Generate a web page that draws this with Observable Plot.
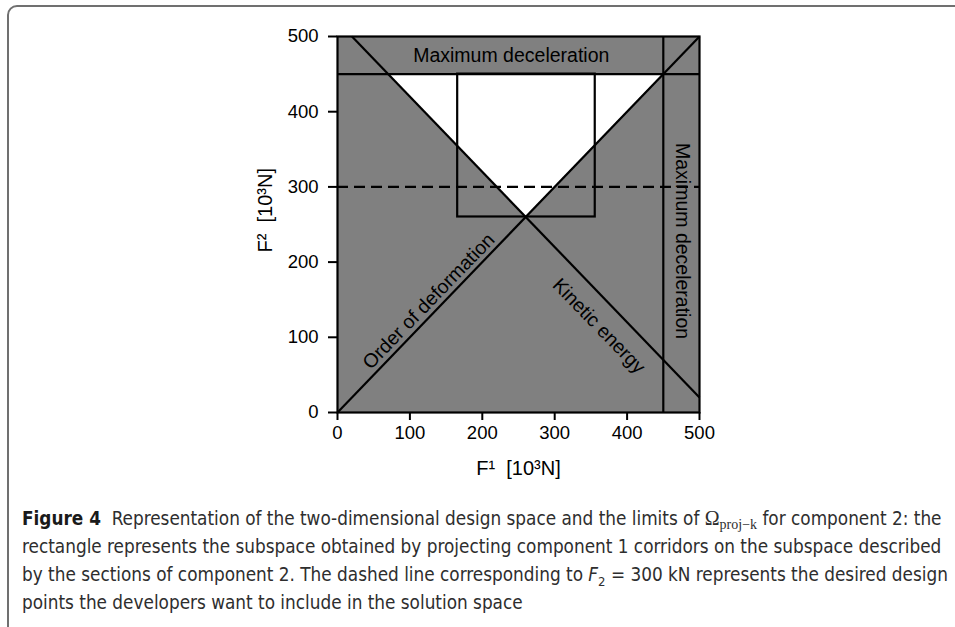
<!DOCTYPE html>
<html>
<head>
<meta charset="utf-8">
<script src="https://cdn.jsdelivr.net/npm/d3@7"></script>
<script src="https://cdn.jsdelivr.net/npm/@observablehq/plot@0.6"></script>
<style>
  html, body { margin: 0; padding: 0; background: #fff; width: 955px; height: 627px; overflow: hidden; }
  #frame { position: absolute; left: 7px; top: 5px; width: 980px; height: 640px; border: 2px solid #707070; border-radius: 10px; box-sizing: border-box; }
  #chart { position: absolute; left: 0; top: 0; }
  #caption { position: absolute; left: 22px; top: 504px; font-family: "Liberation Sans Narrow", "DejaVu Sans Condensed", "Open Sans", sans-serif; font-size: 18.8px; line-height: 28px; color: #2e2e2e; white-space: nowrap; }
  #caption b { color: #1a1a1a; }
  .om { font-family: "Liberation Serif", "DejaVu Serif", serif; font-size: 20px; }
  .om sub { font-size: 14px; vertical-align: -4px; line-height: 0; }
</style>
</head>
<body>
<div id="frame"></div>
<div id="chart"></div>
<div id="caption">
  <div><b>Figure 4</b>&nbsp; Representation of the two-dimensional design space and the limits of <span class="om">Ω<sub>proj−k</sub></span> for component 2: the</div>
  <div>rectangle represents the subspace obtained by projecting component 1 corridors on the subspace described</div>
  <div>by the sections of component 2. The dashed line corresponding to <i>F</i><sub style="font-size:13px;line-height:0">2</sub> = 300 kN represents the desired design</div>
  <div>points the developers want to include in the solution space</div>
</div>
<script>
// axis ticks
const xTicks = [0, 100, 200, 300, 400, 500];
const yTicks = [0, 100, 200, 300, 400, 500];

// feasible (white) region: bounded by order of deformation, kinetic energy and max deceleration
const feasibleX  = [70, 260, 450];
const feasibleY1 = [450, 260, 450];
const feasibleY2 = [450, 450, 450];

// constraint lines (start/end values)
const lineNames = ["Order of deformation", "Kinetic energy", "Maximum deceleration (F2)", "Maximum deceleration (F1)"];
const lineX1 = [0, 20, 0, 450];
const lineY1 = [0, 500, 450, 0];
const lineX2 = [500, 500, 500, 450];
const lineY2 = [500, 20, 450, 500];

// projected rectangle of component 1 corridors
const rectX = [166, 356];
const rectY = [260, 450];

// desired design points
const desiredF2 = [300];

// annotation labels
const labelText = ["Maximum deceleration", "Maximum deceleration", "Order of deformation", "Kinetic energy"];
const labelX = [240, 476, 126, 361];
const labelY = [474, 228, 148, 115];
const labelRot = [0, 90, -46, 46];

const feasible = feasibleX.map((x, i) => ({x, y1: feasibleY1[i], y2: feasibleY2[i]}));
const lines = lineNames.map((n, i) => ({n, x1: lineX1[i], y1: lineY1[i], x2: lineX2[i], y2: lineY2[i]}));
const labels = labelText.map((t, i) => ({t, x: labelX[i], y: labelY[i], r: labelRot[i]}));
const font = '"Liberation Sans", Arial, Helvetica, sans-serif';

const plot = Plot.plot({
  width: 955,
  height: 490,
  marginLeft: 337,
  marginRight: 256,
  marginTop: 36,
  marginBottom: 78,
  style: { fontFamily: font, fontSize: "18.5px", color: "#000", background: "transparent" },
  x: { domain: [0, 500] },
  y: { domain: [0, 500] },
  marks: [
    Plot.frame({ fill: "#808080" }),
    Plot.areaY(feasible, { x: "x", y1: "y1", y2: "y2", fill: "#fff" }),
    Plot.ruleY(desiredF2, { x1: 0, x2: 500, stroke: "#000", strokeWidth: 2.2, strokeDasharray: "11,6" }),
    Plot.link(lines, { x1: "x1", y1: "y1", x2: "x2", y2: "y2", stroke: "#000", strokeWidth: 2.2 }),
    Plot.rect([{}], { x1: rectX[0], x2: rectX[1], y1: rectY[0], y2: rectY[1], fill: "none", stroke: "#000", strokeWidth: 2.2 }),
    ...labels.map(d => Plot.text([d], { x: "x", y: "y", text: "t", rotate: d.r, fontSize: 19.5, fill: "#000" })),
    Plot.frame({ stroke: "#000", strokeWidth: 2.2 }),
    Plot.axisX({ ticks: xTicks, tickSize: 8, tickPadding: 5, strokeWidth: 2, label: null, fontSize: 18.5 }),
    Plot.axisY({ ticks: yTicks, tickSize: 9, tickPadding: 10, strokeWidth: 2, label: null, fontSize: 18.5 }),
    Plot.text(["F\u00b9\u00a0\u00a0[10\u00b3N]"], { x: 250, frameAnchor: "bottom", dy: 56, lineAnchor: "middle", textAnchor: "middle", text: d => d, fontSize: 20, fill: "#000" }),
    Plot.text(["F\u00b2\u00a0\u00a0[10\u00b3N]"], { y: 269, frameAnchor: "left", dx: -72, rotate: -90, textAnchor: "middle", lineAnchor: "middle", text: d => d, fontSize: 20, fill: "#000" })
  ]
});
document.getElementById("chart").appendChild(plot);
</script>
</body>
</html>
